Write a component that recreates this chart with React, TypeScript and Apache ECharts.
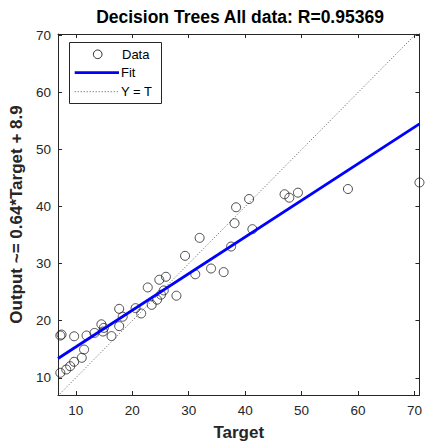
import React, { useEffect, useRef } from "react";
import * as echarts from "echarts";

const TITLE = "Decision Trees All data: R=0.95369";
const X_NAME = "Target";
const Y_NAME = "Output ~= 0.64*Target + 8.9";
const AXIS_MIN = 6.84;
const AXIS_MAX = 70.88;
const Y_MIN = 6.98;
const Y_MAX = 70.25;

const targets = [
  6.77, 7.25, 8.3, 9.0, 9.7, 11.05, 11.46, 7.25, 7.47, 9.7, 11.9, 13.3, 14.53, 14.96, 14.8,
  16.32, 17.68, 17.68, 18.3, 20.58, 21.58, 22.74, 23.44, 24.39, 25.09, 25.58, 24.79, 25.96,
  27.82, 29.35, 31.16, 31.93, 33.96, 36.19, 37.51, 38.12, 38.39, 40.7, 41.28, 46.98, 47.82,
  49.35, 58.21, 70.88,
];
const outputs = [
  10.87, 10.87, 11.45, 12.03, 12.8, 13.5, 14.95, 17.4, 17.57, 17.27, 17.4, 17.86, 19.37, 18.74,
  18.1, 17.3, 19.05, 22.08, 20.7, 22.2, 21.27, 25.83, 22.78, 23.68, 24.56, 25.31, 27.18, 27.7,
  24.38, 31.37, 28.14, 34.52, 29.15, 28.52, 33.0, 37.09, 39.88, 41.33, 36.04, 42.16, 41.56,
  42.44, 43.08, 44.22,
];
const fitLine = [
  [6.84, 13.37],
  [70.88, 54.5],
];
const identityLine = [
  [6.84, 6.84],
  [70.88, 70.88],
];

const AXIS_COLOR = "#262626";
const FONT = "Liberation Sans, Arial, sans-serif";

export default function App() {
  const ref = useRef<HTMLDivElement>(null);
  useEffect(() => {
    if (!ref.current) return;
    const chart = echarts.init(ref.current, null, { renderer: "svg" });
    const labelFmt = (v: number) => (Math.abs(v - Math.round(v / 10) * 10) < 1e-6 ? String(Math.round(v)) : "");
    const baseX = {
      type: "value" as const,
      min: AXIS_MIN,
      max: AXIS_MAX,
      minInterval: 10,
      maxInterval: 10,
      splitLine: { show: false },
      axisLine: { show: true, lineStyle: { color: AXIS_COLOR, width: 1 } },
      axisTick: { show: true, inside: true, length: 4, lineStyle: { color: AXIS_COLOR } },
    };
    const baseY = {
      type: "value" as const,
      min: Y_MIN,
      max: Y_MAX,
      minInterval: 10,
      maxInterval: 10,
      splitLine: { show: false },
      axisLine: { show: true, lineStyle: { color: AXIS_COLOR, width: 1 } },
      axisTick: { show: true, inside: true, length: 4, lineStyle: { color: AXIS_COLOR } },
    };
    chart.setOption({
      animation: false,
      backgroundColor: "#ffffff",
      textStyle: { fontFamily: FONT },
      grid: { left: 58, right: 2, top: 34, bottom: 50.5, containLabel: false },
      xAxis: [
        {
          ...baseX,
          position: "bottom",
          name: X_NAME,
          nameLocation: "middle",
          nameGap: 29,
          nameTextStyle: { fontSize: 17, fontWeight: "bold", color: AXIS_COLOR, fontFamily: FONT },
          axisLabel: {
            show: true,
            margin: 8,
            fontSize: 13.5,
            color: AXIS_COLOR,
            formatter: labelFmt,
            showMinLabel: false,
            showMaxLabel: false,
          },
        },
        { ...baseX, position: "top", axisLabel: { show: false } },
      ],
      yAxis: [
        {
          ...baseY,
          position: "left",
          name: Y_NAME,
          nameLocation: "middle",
          nameGap: 30,
          nameTextStyle: { fontSize: 17, fontWeight: "bold", color: AXIS_COLOR, fontFamily: FONT },
          axisLabel: {
            show: true,
            margin: 7,
            fontSize: 13.5,
            color: AXIS_COLOR,
            formatter: labelFmt,
            showMinLabel: false,
            showMaxLabel: false,
          },
        },
        { ...baseY, position: "right", axisLabel: { show: false } },
      ],
      series: [
        {
          type: "line",
          name: "Y = T",
          data: identityLine,
          symbol: "none",
          lineStyle: { color: "#555555", width: 1, type: [1, 2] },
          z: 1,
          silent: true,
        },
        {
          type: "scatter",
          name: "Data",
          data: targets.map((t, i) => [t, outputs[i]]),
          symbol: "circle",
          symbolSize: 9,
          itemStyle: { color: "rgba(0,0,0,0)", borderColor: "#222222", borderWidth: 1 },
          z: 2,
        },
        {
          type: "line",
          name: "Fit",
          data: fitLine,
          symbol: "none",
          lineStyle: { color: "#0000ff", width: 2.8 },
          z: 3,
          silent: true,
        },
      ],
      graphic: [
        {
          type: "text",
          x: 240,
          y: 17,
          style: {
            text: TITLE,
            fontSize: 17.5,
            fontWeight: "bold",
            fill: "#000000",
            fontFamily: FONT,
            textAlign: "center",
            textVerticalAlign: "middle",
          },
        },
        {
          type: "group",
          children: [
            {
              type: "rect",
              shape: { x: 69.5, y: 42.5, width: 92, height: 61 },
              style: { fill: "#ffffff", stroke: AXIS_COLOR, lineWidth: 1 },
            },
            {
              type: "circle",
              shape: { cx: 97.7, cy: 54.3, r: 4.3 },
              style: { fill: "none", stroke: "#222222", lineWidth: 1 },
            },
            {
              type: "line",
              shape: { x1: 74.7, y1: 72.7, x2: 119, y2: 72.7 },
              style: { stroke: "#0000ff", lineWidth: 2.8 },
            },
            {
              type: "line",
              shape: { x1: 74.7, y1: 91.7, x2: 119, y2: 91.7 },
              style: { stroke: "#555555", lineWidth: 1, lineDash: [1, 2] },
            },
            {
              type: "text",
              x: 122,
              y: 54.3,
              style: { text: "Data", fontSize: 13, fill: "#000000", fontFamily: FONT, textVerticalAlign: "middle" },
            },
            {
              type: "text",
              x: 121,
              y: 72.7,
              style: { text: "Fit", fontSize: 13, fill: "#000000", fontFamily: FONT, textVerticalAlign: "middle" },
            },
            {
              type: "text",
              x: 121,
              y: 91.7,
              style: { text: "Y = T", fontSize: 13, fill: "#000000", fontFamily: FONT, textVerticalAlign: "middle" },
            },
          ],
        },
      ],
    });
    return () => chart.dispose();
  }, []);
  return <div ref={ref} style={{ position: "fixed", left: 0, top: 0, width: 425, height: 446 }} />;
}
